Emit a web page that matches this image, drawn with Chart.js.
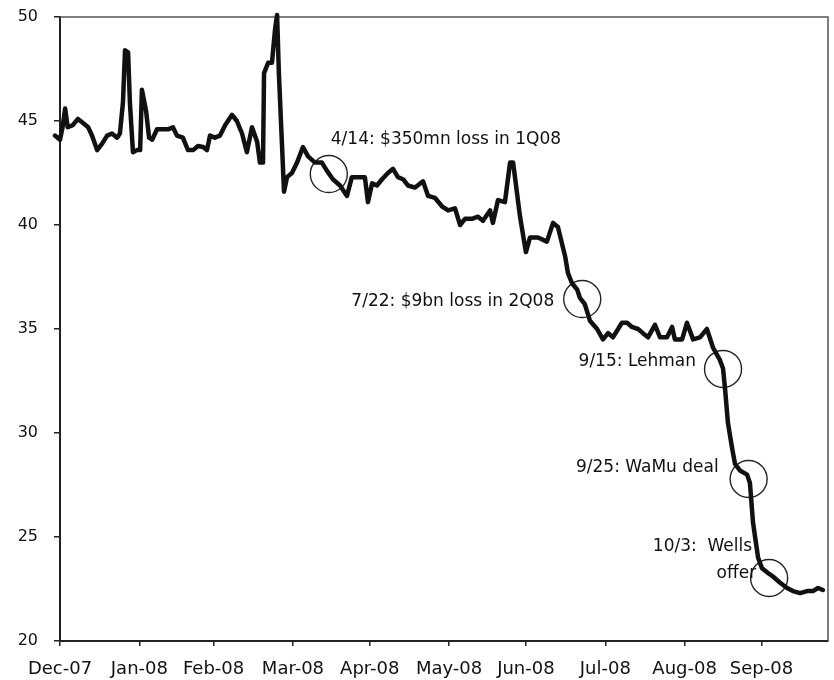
<!DOCTYPE html>
<html>
<head>
<meta charset="utf-8">
<script src="https://cdn.jsdelivr.net/npm/chart.js@4"></script>
<style>
  html, body { margin: 0; padding: 0; background: #fff; overflow: hidden; }
  #wrap { width: 834px; height: 680px; position: relative; }
  #priceChart { display: block; }
</style>
</head>
<body>
<div id="wrap"><canvas id="priceChart"></canvas></div>
<script>
// day = calendar days after 31 Dec 2007
const days = [
  -4, -2, 0, 1, 2, 3, 5, 7, 9, 11, 12.5, 14.5, 16.4, 18.4, 20.3, 22.3, 23.4, 24.6, 25.4, 26.6,
  27.3, 28.5, 30, 31.3, 32, 33.6, 34.8, 36, 37.9, 40.2, 42.2, 44.1, 45.7, 48, 50, 52, 53.9, 55.9,
  57.4, 58.6, 60.5, 62.5, 64.5, 67.2, 69.1, 71.1, 73, 75, 77, 78.1, 79.3, 79.7, 81.3, 82.8, 84,
  84.8, 85.5, 86.7, 87.5, 88.7, 90.6, 92.6, 94.9, 96.9, 99.6, 102.3, 104.3, 106.6, 109.4, 112.1,
  114, 116.4, 119.1, 120.3, 121.9, 123.8, 125.8, 128.1, 130.1, 132, 134, 135.9, 138.7, 141.8,
  143.8, 146.5, 149.2, 151.6, 154.3, 156.3, 158.2, 160.9, 163.3, 165.2, 168, 169.1, 171.1, 173.8,
  175.8, 177, 179.7, 182, 183.6, 186.7, 190.2, 192.6, 194.5, 197.3, 198.4, 200, 202, 203.1, 205,
  207, 209.8, 212.1, 214.1, 216, 219.5, 221.5, 223.4, 225.8, 227.7, 229.7, 232.4, 234.4, 237.1,
  239.1, 240.2, 243, 244.9, 247.3, 250, 252.7, 255.1, 257.8, 259, 259.8, 260.9, 262.5, 263.7,
  265.6, 268.4, 269.5, 270.7, 272.7, 274.2, 276.2, 278.5, 281.3, 284, 286.3, 289.1, 291.8, 294.1,
  296.1, 298
];
const price = [
  44.7, 44.3, 44.1, 44.7, 45.6, 44.7, 44.8, 45.1, 44.9, 44.7, 44.3, 43.6, 43.9, 44.3, 44.4, 44.2, 44.4, 45.9, 48.4, 48.3,
  45.9, 43.5, 43.6, 43.6, 46.5, 45.5, 44.2, 44.1, 44.6, 44.6, 44.6, 44.7, 44.3, 44.2, 43.6, 43.6, 43.8, 43.75,
  43.6, 44.3, 44.2, 44.3, 44.8, 45.3, 45.0, 44.4, 43.5, 44.7, 44.0, 43.0, 43.0, 47.3, 47.8, 47.8, 49.4,
  50.1, 47.3, 43.9, 41.6, 42.3, 42.5, 43.0, 43.75, 43.3, 43.0, 43.0, 42.6, 42.2, 41.9, 41.4,
  42.3, 42.3, 42.3, 41.1, 42.0, 41.9, 42.2, 42.5, 42.7, 42.3, 42.2, 41.9, 41.8, 42.1,
  41.4, 41.3, 40.9, 40.7, 40.8, 40.0, 40.3, 40.3, 40.4, 40.2, 40.7, 40.1, 41.2, 41.1,
  43.0, 43.0, 40.4, 38.7, 39.4, 39.4, 39.2, 40.1, 39.9, 38.5, 37.7, 37.2, 36.9, 36.5, 36.2,
  35.4, 35.0, 34.5, 34.8, 34.6, 35.3, 35.3, 35.1, 35.0, 34.8, 34.6, 35.2, 34.6, 34.6,
  35.1, 34.5, 34.5, 35.3, 34.5, 34.6, 35.0, 34.1, 33.5, 33.1, 32.1, 30.5, 29.3, 28.5,
  28.2, 28.0, 27.6, 25.7, 24.0, 23.5, 23.3, 23.1, 22.8, 22.55, 22.4, 22.3, 22.4, 22.4,
  22.55, 22.45
];

const monthDays = [0, 31, 60, 91, 121, 152, 182, 213, 244, 274];
const monthLabels = ['Dec-07', 'Jan-08', 'Feb-08', 'Mar-08', 'Apr-08', 'May-08', 'Jun-08', 'Jul-08', 'Aug-08', 'Sep-08'];

const eventDays = [105, 204, 259, 269, 277];
const eventPrices = [42.45, 36.44, 33.08, 27.79, 23.03];
const eventLabels = [
  ['4/14: $350mn loss in 1Q08'],
  ['7/22: $9bn loss in 2Q08'],
  ['9/15: Lehman'],
  ['9/25: WaMu deal'],
  ['10/3:  Wells', 'offer'],
];

// text placement relative to each circle centre (px)
const labelPlacement = [
  { align: 'left', dx: 2, dy: [-34] },
  { align: 'right', dx: -28, dy: [3] },
  { align: 'right', dx: -27, dy: [-7] },
  { align: 'right', dx: -30, dy: [-11] },
  { align: 'right', dx: [-17, -13], dy: [-31, -4] },
];

const FONT = 'DejaVu Sans';

const framePlugin = {
  id: 'frame',
  beforeDatasetsDraw(chart) {
    const { ctx, chartArea: a } = chart;
    ctx.save();
    ctx.strokeStyle = '#555';
    ctx.lineWidth = 1.5;
    ctx.beginPath();
    ctx.moveTo(a.left, a.top);
    ctx.lineTo(a.right, a.top);
    ctx.lineTo(a.right, a.bottom);
    ctx.stroke();
    ctx.restore();
  }
};

const eventTextPlugin = {
  id: 'eventText',
  afterDatasetsDraw(chart) {
    const { ctx, scales: { x, y } } = chart;
    ctx.save();
    ctx.font = '17px "' + FONT + '"';
    ctx.fillStyle = '#111';
    ctx.textBaseline = 'middle';
    eventLabels.forEach((lines, i) => {
      const p = labelPlacement[i];
      const cx = x.getPixelForValue(eventDays[i]);
      const cy = y.getPixelForValue(eventPrices[i]);
      ctx.textAlign = p.align;
      lines.forEach((t, j) => {
        const dx = Array.isArray(p.dx) ? p.dx[j] : p.dx;
        ctx.fillText(t, cx + dx, cy + p.dy[j]);
      });
    });
    ctx.restore();
  }
};

new Chart(document.getElementById('priceChart').getContext('2d'), {
  type: 'line',
  data: {
    datasets: [
      {
        data: days.map((d, i) => ({ x: d, y: price[i] })),
        borderColor: '#111',
        borderWidth: 4.5,
        borderJoinStyle: 'round',
        borderCapStyle: 'round',
        pointRadius: 0,
        tension: 0,
        clip: false,
      },
      {
        data: eventDays.map((d, i) => ({ x: d, y: eventPrices[i] })),
        showLine: false,
        pointRadius: 18.5,
        pointBorderWidth: 1.4,
        pointBorderColor: '#222',
        pointBackgroundColor: 'rgba(0,0,0,0)',
        clip: false,
      },
    ],
  },
  options: {
    responsive: true,
    maintainAspectRatio: false,
    animation: false,
    layout: { autoPadding: false, padding: { left: 0, right: 6, top: 17, bottom: 0 } },
    plugins: {
      legend: { display: false },
      tooltip: { enabled: false },
    },
    scales: {
      x: {
        type: 'linear',
        min: 0,
        max: 300,
        afterFit: (s) => { s.height = 39; s.paddingLeft = 0; s.paddingRight = 0; },
        afterBuildTicks: (s) => { s.ticks = monthDays.map(v => ({ value: v })); },
        ticks: {
          autoSkip: false,
          maxRotation: 0,
          padding: 13,
          color: '#111',
          font: { family: FONT, size: 18 },
          callback: (v) => monthLabels[monthDays.indexOf(v)],
        },
        grid: { drawOnChartArea: false, tickLength: 5, color: '#222', lineWidth: 1.5 },
        border: { display: true, color: '#222', width: 2 },
      },
      y: {
        min: 20,
        max: 50,
        afterFit: (s) => { s.width = 60; s.paddingTop = 0; s.paddingBottom = 0; },
        ticks: {
          stepSize: 5,
          padding: 16,
          color: '#111',
          font: { family: FONT, size: 16 },
        },
        grid: { drawOnChartArea: false, tickLength: 6, color: '#222', lineWidth: 1.5 },
        border: { display: true, color: '#222', width: 2 },
      },
    },
  },
  plugins: [framePlugin, eventTextPlugin],
});
</script>
</body>
</html>
